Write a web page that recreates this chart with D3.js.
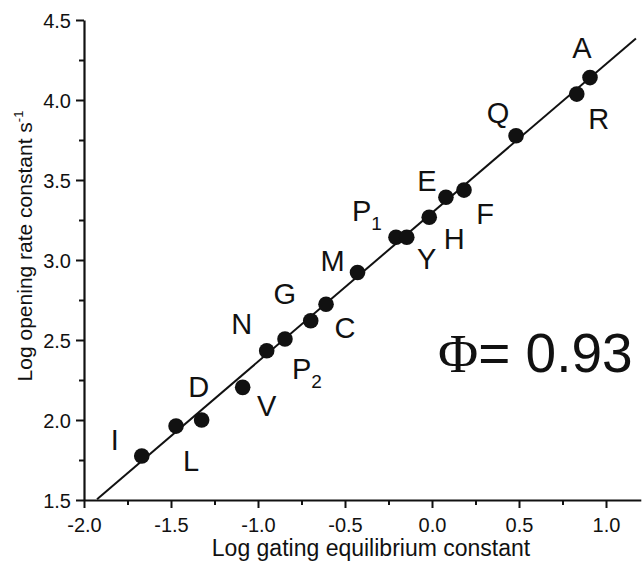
<!DOCTYPE html>
<html>
<head>
<meta charset="utf-8">
<script src="https://cdn.jsdelivr.net/npm/d3@7"></script>
<style>
  body { margin: 0; background: #fff; }
  text { font-family: "Liberation Sans", Arial, sans-serif; fill: #111; }
</style>
</head>
<body>
<div id="canvas"></div>
<script>
// mutant labels and their log values
const mutants = ["I", "L", "D", "V", "N", "P", "G", "C", "M", "P", "Y", "H", "E", "F", "Q", "R", "A"];
const subscripts = ["", "", "", "", "", "2", "", "", "", "1", "", "", "", "", "", "", ""];
const logGating = [-1.668, -1.471, -1.324, -1.088, -0.950, -0.845, -0.697, -0.609, -0.428, -0.207, -0.145, -0.016, 0.080, 0.184, 0.483, 0.832, 0.908];
const logOpening = [1.775, 1.962, 2.0, 2.204, 2.433, 2.506, 2.62, 2.723, 2.922, 3.142, 3.142, 3.267, 3.392, 3.437, 3.777, 4.037, 4.14];

const xTicks = [-2.0, -1.5, -1.0, -0.5, 0.0, 0.5, 1.0];
const yTicks = [1.5, 2.0, 2.5, 3.0, 3.5, 4.0, 4.5];

// linear fit
const fitSlope = 0.93;
const fitIntercept = 3.295;
const fitRange = [-1.925, 1.172];

// label offsets from each dot (px), same order as mutants
const labelOffsets = [[-27, -6], [15, 45], [-3, -23], [24, 29], [-25, -17], [22, 40], [-26, -17], [19, 34], [-25, -1],
  [-29, -16], [20, 32], [25, 32], [-19, -6], [21, 34], [-18, -13], [22, 35], [-8, -20]];

const width = 642, height = 562;

const svg = d3.select("#canvas")
  .append("svg")
  .attr("width", width)
  .attr("height", height);

const x = d3.scaleLinear().domain([-2, 1.2]).range([84, 640.8]);
const y = d3.scaleLinear().domain([1.5, 4.5]).range([500, 20]);

// minor ticks
svg.append("g")
  .attr("transform", "translate(0,500)")
  .call(d3.axisBottom(x).tickValues(d3.range(-1.75, 1.2, 0.5)).tickSize(5).tickFormat(""))
  .call(g => g.select(".domain").remove());
svg.append("g")
  .attr("transform", "translate(84,0)")
  .call(d3.axisLeft(y).tickValues(d3.range(1.75, 4.5, 0.5)).tickSize(5).tickFormat(""))
  .call(g => g.select(".domain").remove());

const xAxis = svg.append("g")
  .attr("transform", "translate(0,500)")
  .call(d3.axisBottom(x).tickValues(xTicks).tickSize(8).tickSizeOuter(0).tickPadding(10).tickFormat(d => d.toFixed(1)));

const yAxis = svg.append("g")
  .attr("transform", "translate(84,0)")
  .call(d3.axisLeft(y).tickValues(yTicks).tickSize(8).tickSizeOuter(0).tickPadding(5).tickFormat(d => d.toFixed(1)));

svg.selectAll(".domain").attr("stroke", "#111").attr("stroke-width", 2.2);
svg.selectAll(".tick line").attr("stroke", "#111").attr("stroke-width", 2);
svg.selectAll(".tick text")
  .style("font-family", "Liberation Sans, Arial, sans-serif")
  .style("font-size", "20px")
  .attr("fill", "#111");
yAxis.selectAll(".tick text").attr("dy", "0.36em");

// fit line
svg.append("line")
  .attr("x1", x(fitRange[0]))
  .attr("y1", y(fitIntercept + fitSlope * fitRange[0]))
  .attr("x2", x(fitRange[1]))
  .attr("y2", y(fitIntercept + fitSlope * fitRange[1]))
  .attr("stroke", "#111")
  .attr("stroke-width", 2);

// dots
svg.selectAll("circle")
  .data(logGating)
  .enter()
  .append("circle")
  .attr("cx", d => x(d))
  .attr("cy", (d, i) => y(logOpening[i]))
  .attr("r", 7.8)
  .attr("fill", "#111");

// point labels
const labels = svg.selectAll("text.lab")
  .data(mutants)
  .enter()
  .append("text")
  .attr("class", "lab")
  .attr("x", (d, i) => x(logGating[i]) + labelOffsets[i][0])
  .attr("y", (d, i) => y(logOpening[i]) + labelOffsets[i][1])
  .attr("text-anchor", "middle")
  .style("font-size", "29px");

labels.append("tspan").text(d => d);
labels.each(function (d, i) {
  if (subscripts[i]) {
    d3.select(this).append("tspan")
      .attr("dy", 9)
      .style("font-size", "19px")
      .text(subscripts[i]);
  }
});

// axis titles
svg.append("text")
  .attr("x", 371)
  .attr("y", 556)
  .attr("text-anchor", "middle")
  .style("font-size", "23px")
  .text("Log gating equilibrium constant");

const yTitle = svg.append("text")
  .attr("transform", "translate(32,246) rotate(-90)")
  .attr("text-anchor", "middle")
  .style("font-size", "21px");
yTitle.append("tspan").text("Log opening rate constant s");
yTitle.append("tspan").attr("dy", -9).style("font-size", "13px").text("-1");

// phi annotation
const phi = svg.append("text")
  .attr("x", 438)
  .attr("y", 372);
phi.append("tspan")
  .style("font-family", "Liberation Serif, Times New Roman, serif")
  .style("font-size", "55px")
  .text("Φ");
phi.append("tspan")
  .style("font-size", "55px")
  .text("= 0.93");
</script>
</body>
</html>
